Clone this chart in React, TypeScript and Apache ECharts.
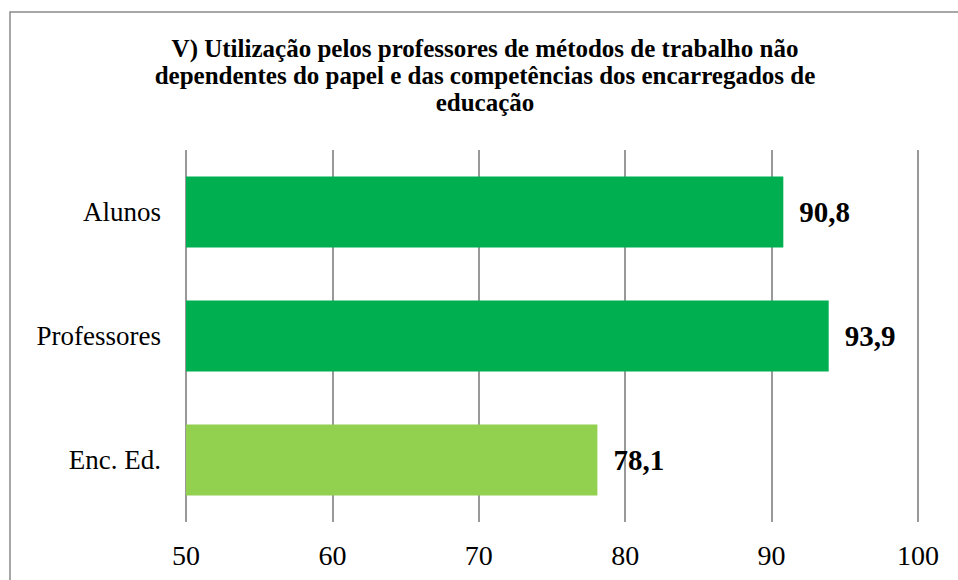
import React, { useEffect, useRef } from "react";
import * as echarts from "echarts";

const categories = ["Alunos", "Professores", "Enc. Ed."];
const values = [90.8, 93.9, 78.1];
const barColors = ["#00B050", "#00B050", "#92D050"];
const xTicks = { min: 50, max: 100, interval: 10 };
const titleText =
  "V) Utilização pelos professores de métodos de trabalho não\ndependentes do papel e das competências dos encarregados de\neducação";

export default function App() {
  const ref = useRef<HTMLDivElement>(null);
  useEffect(() => {
    if (!ref.current) return;
    const chart = echarts.init(ref.current, undefined, { renderer: "svg" });
    const serif = "'Liberation Serif', 'DejaVu Serif', serif";
    chart.setOption({
      animation: false,
      backgroundColor: "#ffffff",
      title: {
        text: titleText,
        left: 480,
        textAlign: "center",
        top: 30,
        textStyle: {
          fontFamily: serif,
          fontWeight: "bold",
          fontSize: 25,
          lineHeight: 27,
          color: "#000",
        },
      },
      graphic: [
        {
          type: "rect",
          shape: { x: 10, y: 12, width: 980, height: 620 },
          style: { fill: "none", stroke: "#8a8a8a", lineWidth: 1.5 },
          silent: true,
        },
      ],
      grid: { left: 186, right: 40, top: 150, bottom: 58, containLabel: false },
      xAxis: {
        type: "value",
        min: xTicks.min,
        max: xTicks.max,
        interval: xTicks.interval,
        axisLine: { show: false },
        axisTick: { show: false },
        splitLine: { show: true, lineStyle: { color: "#999999", width: 2 } },
        axisLabel: {
          color: "#000",
          fontFamily: serif,
          fontSize: 28,
          margin: 19,
        },
      },
      yAxis: {
        type: "category",
        data: categories,
        inverse: true,
        axisLine: { show: false },
        axisTick: { show: false },
        axisLabel: {
          color: "#000",
          fontFamily: serif,
          fontSize: 27,
          margin: 25,
        },
      },
      series: [
        {
          type: "bar",
          barWidth: 71,
          data: values.map((v, i) => ({ value: v, itemStyle: { color: barColors[i] } })),
          label: {
            show: true,
            position: "right",
            distance: 16,
            color: "#000",
            fontFamily: serif,
            fontWeight: "bold",
            fontSize: 29,
            formatter: (p: any) => String(p.value).replace(".", ","),
          },
        },
      ],
    });
    return () => chart.dispose();
  }, []);
  return (
    <div
      ref={ref}
      style={{ position: "fixed", left: 0, top: 0, width: 958, height: 580 }}
    />
  );
}
